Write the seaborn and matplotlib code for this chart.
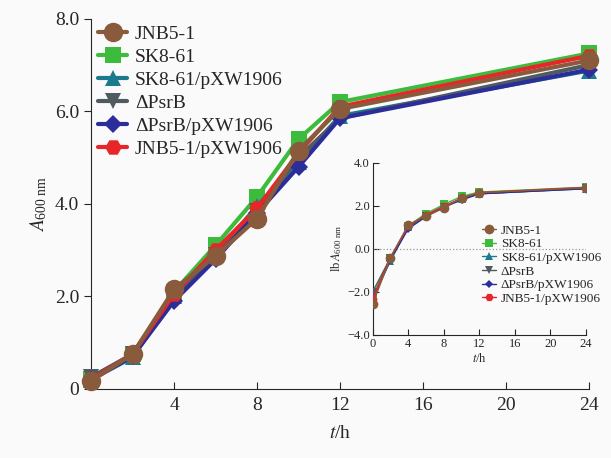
import numpy as np
import pandas as pd
import seaborn as sns
import matplotlib.pyplot as plt

# sampling times (h)
hours = [0, 2, 4, 6, 8, 10, 12, 24]

# A600 readings per strain
jnb5_1 = [0.17, 0.75, 2.15, 2.87, 3.68, 5.15, 6.05, 7.10]
sk8_61 = [0.22, 0.75, 2.10, 3.10, 4.15, 5.40, 6.20, 7.25]
sk8_61_pxw = [0.20, 0.68, 2.00, 2.90, 3.95, 4.90, 5.90, 6.88]
dpsrb = [0.25, 0.75, 2.00, 2.90, 3.85, 5.00, 5.85, 7.00]
dpsrb_pxw = [0.20, 0.70, 1.90, 2.80, 3.80, 4.80, 5.85, 6.90]
jnb5_1_pxw = [0.20, 0.75, 2.05, 3.00, 3.90, 5.10, 6.10, 7.20]

strains = ["JNB5-1", "SK8-61", "SK8-61/pXW1906", "ΔPsrB", "ΔPsrB/pXW1906", "JNB5-1/pXW1906"]
series = [jnb5_1, sk8_61, sk8_61_pxw, dpsrb, dpsrb_pxw, jnb5_1_pxw]
colors = ["#8a5a3c", "#3dbb3d", "#1c7a8e", "#4f5a61", "#2a2d9a", "#e8262a"]
markers = ["o", "s", "^", "v", "D", "H"]
msizes = [14, 11, 12, 12, 9, 12]
zorders = [10, 4, 5, 6, 7, 8]

rows = []
for name, vals in zip(strains, series):
    for t, v in zip(hours, vals):
        rows.append({"t": t, "A600": v, "lbA600": np.log2(v), "strain": name})
df = pd.DataFrame(rows)

sns.set_style("ticks")
plt.rcParams["font.family"] = ["Liberation Serif", "DejaVu Serif"]
plt.rcParams["mathtext.fontset"] = "stix"

fig = plt.figure(figsize=(6.11, 4.58), dpi=100, facecolor="#fafafa")
ax = fig.add_axes([0.149, 0.151, 0.815, 0.808])
ax.set_facecolor("#fafafa")

for name, c, m, ms, z in zip(strains, colors, markers, msizes, zorders):
    sns.lineplot(data=df[df.strain == name], x="t", y="A600", ax=ax, color=c,
                 marker=m, markersize=ms, markeredgewidth=0, linewidth=3,
                 label=name, zorder=z, clip_on=False)

ax.set_xlim(0, 24)
ax.set_ylim(0, 8)
ax.set_xticks([4, 8, 12, 16, 20, 24])
ax.set_yticks([0, 2, 4, 6, 8])
ax.set_yticklabels(["0", "2.0", "4.0", "6.0", "8.0"])
ax.tick_params(axis="x", direction="in", labelsize=14, length=5, pad=6)
ax.tick_params(axis="y", direction="out", labelsize=14, length=5)
sns.despine(ax=ax)
ax.set_xlabel(r"$t$/h", fontsize=14, labelpad=8)
ax.set_ylabel(r"$A_{\mathregular{600\ nm}}$", fontsize=14, labelpad=4)

handles, labels = ax.get_legend_handles_labels()
ax.legend(handles, labels, loc="upper left", bbox_to_anchor=(-0.013, 1.02), frameon=False,
          fontsize=14, handlelength=1.5, handletextpad=0.4, labelspacing=0.28,
          borderaxespad=0.3)

# inset: lb A600
ins = fig.add_axes([0.610, 0.269, 0.349, 0.376])
ins.set_facecolor("#fafafa")
ins.axhline(0, color="#999999", linestyle=":", linewidth=0.9, zorder=1)
for name, c, m, ms, z in zip(strains, colors, markers, msizes, zorders):
    sns.lineplot(data=df[df.strain == name], x="t", y="lbA600", ax=ins, color=c,
                 marker=m, markersize=ms * 0.5, markeredgewidth=0, linewidth=1,
                 label=name, zorder=z)
ins.set_xlim(0, 24)
ins.set_ylim(-4, 4)
ins.set_xticks([0, 4, 8, 12, 16, 20, 24])
ins.set_yticks([-4, -2, 0, 2, 4])
ins.set_yticklabels(["−4.0", "−2.0", "0.0", "2.0", "4.0"])
ins.tick_params(direction="in", labelsize=9, length=4, pad=2)
sns.despine(ax=ins)
ins.set_xlabel(r"$t$/h", fontsize=9, labelpad=2)
ins.set_ylabel(r"lb$\,A_{\mathregular{600\ nm}}$", fontsize=9, labelpad=2)
h2, l2 = ins.get_legend_handles_labels()
ins.legend(h2, l2, loc="upper left", bbox_to_anchor=(0.49, 0.67), frameon=False,
           fontsize=9.5, handlelength=1.0, handletextpad=0.4, labelspacing=0.1,
           borderaxespad=0.0)

fig.savefig("out.png", dpi=100, facecolor=fig.get_facecolor())
